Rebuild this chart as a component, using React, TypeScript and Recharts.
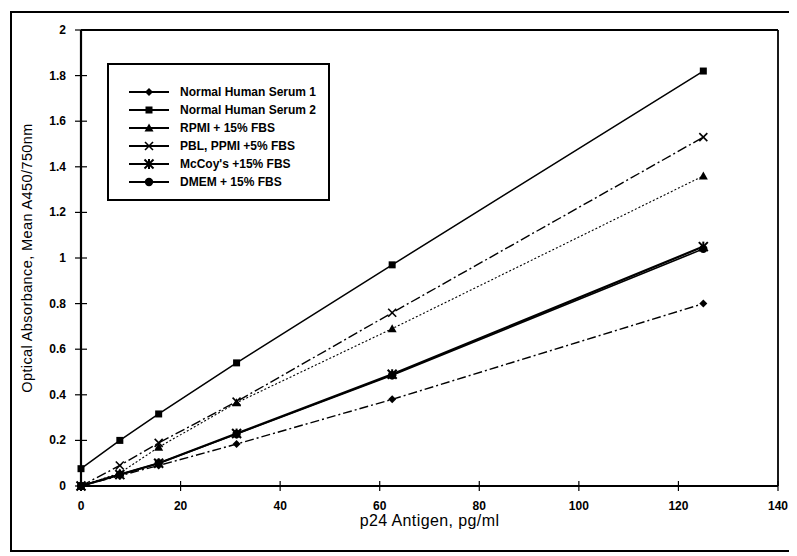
import React from 'react';
import { LineChart, Line, XAxis, YAxis, ReferenceLine, Legend, Label } from 'recharts';

const concentrations = [0, 7.8, 15.6, 31.25, 62.5, 125];
const normalHumanSerum1 = [0, 0.045, 0.09, 0.184, 0.38, 0.8];
const normalHumanSerum2 = [0.076, 0.2, 0.316, 0.54, 0.97, 1.82];
const rpmi15 = [0, 0.057, 0.17, 0.365, 0.69, 1.36];
const pblPpmi5 = [0, 0.09, 0.189, 0.37, 0.76, 1.53];
const mccoys15 = [0, 0.05, 0.1, 0.23, 0.49, 1.05];
const dmem15 = [0, 0.05, 0.1, 0.228, 0.486, 1.04];

const xTicks = [0, 20, 40, 60, 80, 100, 120, 140];
const yTicks = [0, 0.2, 0.4, 0.6, 0.8, 1, 1.2, 1.4, 1.6, 1.8, 2];
const yTickLabels = ['0', '0.2', '0.4', '0.6', '0.8', '1', '1.2', '1.4', '1.6', '1.8', '2'];

const xTitle = 'p24 Antigen, pg/ml';
const yTitle = 'Optical Absorbance, Mean A450/750nm';

type Shape = 'diamond' | 'square' | 'triangle' | 'cross' | 'asterisk' | 'circle';

const series: { key: string; name: string; values: number[]; shape: Shape; dash?: string; width: number }[] = [
  { key: 'nhs1', name: 'Normal Human Serum 1', values: normalHumanSerum1, shape: 'diamond', dash: '9 3 2 3', width: 1.4 },
  { key: 'nhs2', name: 'Normal Human Serum 2', values: normalHumanSerum2, shape: 'square', width: 1.5 },
  { key: 'rpmi', name: 'RPMI + 15% FBS', values: rpmi15, shape: 'triangle', dash: '2 2', width: 1.1 },
  { key: 'pbl', name: 'PBL, PPMI +5% FBS', values: pblPpmi5, shape: 'cross', dash: '10 3 2 3', width: 1.4 },
  { key: 'mccoy', name: "McCoy's +15% FBS", values: mccoys15, shape: 'asterisk', width: 2.2 },
  { key: 'dmem', name: 'DMEM + 15% FBS', values: dmem15, shape: 'circle', width: 1.6 },
];

const data = concentrations.map((c, i) => {
  const row: Record<string, number> = { conc: c };
  series.forEach((s) => {
    row[s.key] = s.values[i];
  });
  return row;
});

const FONT = 'Arial, "Liberation Sans", Helvetica, sans-serif';

function Marker({ shape, cx, cy }: { shape: Shape; cx: number; cy: number }) {
  switch (shape) {
    case 'diamond':
      return <polygon points={`${cx},${cy - 4} ${cx + 4},${cy} ${cx},${cy + 4} ${cx - 4},${cy}`} fill="#000" />;
    case 'square':
      return <rect x={cx - 3.5} y={cy - 3.5} width={7} height={7} fill="#000" />;
    case 'triangle':
      return <polygon points={`${cx},${cy - 4.5} ${cx + 4.5},${cy + 3.5} ${cx - 4.5},${cy + 3.5}`} fill="#000" />;
    case 'cross':
      return (
        <g stroke="#000" strokeWidth={1.6}>
          <line x1={cx - 4} y1={cy - 4} x2={cx + 4} y2={cy + 4} />
          <line x1={cx - 4} y1={cy + 4} x2={cx + 4} y2={cy - 4} />
        </g>
      );
    case 'asterisk':
      return (
        <g stroke="#000" strokeWidth={2}>
          <line x1={cx - 4.5} y1={cy - 4.5} x2={cx + 4.5} y2={cy + 4.5} />
          <line x1={cx - 4.5} y1={cy + 4.5} x2={cx + 4.5} y2={cy - 4.5} />
          <line x1={cx} y1={cy - 5} x2={cx} y2={cy + 5} />
        </g>
      );
    case 'circle':
    default:
      return <circle cx={cx} cy={cy} r={4.2} fill="#000" />;
  }
}

const XTick = (props: any) => {
  const { x, y, payload } = props;
  return (
    <g>
      <line x1={x} y1={y - 5} x2={x} y2={y + 5} stroke="#000" strokeWidth={1.2} />
      <text x={x} y={y + 24} textAnchor="middle" fontSize={12} fontWeight="bold" fontFamily={FONT} fill="#000">
        {payload.value}
      </text>
    </g>
  );
};

const YTick = (props: any) => {
  const { x, y, payload } = props;
  const idx = yTicks.indexOf(payload.value);
  const label = idx >= 0 ? yTickLabels[idx] : String(payload.value);
  return (
    <g>
      <line x1={x - 6} y1={y} x2={x + 6} y2={y} stroke="#000" strokeWidth={1.2} />
      <text x={x - 15} y={y + 4} textAnchor="end" fontSize={12} fontWeight="bold" fontFamily={FONT} fill="#000">
        {label}
      </text>
    </g>
  );
};

const LegendBox = () => (
  <div
    style={{
      boxSizing: 'border-box',
      width: 223,
      height: 138,
      border: '2px solid #000',
      paddingTop: 18,
      background: '#fff',
      fontFamily: FONT,
    }}
  >
    {series.map((s) => (
      <div key={s.key} style={{ display: 'flex', alignItems: 'center', height: 18 }}>
        <svg width={40} height={14} style={{ marginLeft: 20, display: 'block' }}>
          <line x1={0} y1={7} x2={40} y2={7} stroke="#000" strokeWidth={2} />
          <Marker shape={s.shape} cx={20} cy={7} />
        </svg>
        <span style={{ marginLeft: 11, fontSize: 12, fontWeight: 'bold', color: '#000', whiteSpace: 'nowrap' }}>{s.name}</span>
      </div>
    ))}
  </div>
);

export default function App() {
  return (
    <div style={{ position: 'relative', width: 789, height: 545, background: '#fff' }}>
      <div
        style={{
          position: 'absolute',
          left: 2,
          top: 3,
          width: 786,
          height: 541,
          border: '2px solid #000',
          boxSizing: 'border-box',
        }}
      />
      <div style={{ position: 'absolute', left: 0, top: 0 }}>
        <LineChart
          width={789}
          height={545}
          data={data}
          margin={{ top: 22, right: 19, bottom: 27, left: 13 }}
          style={{ fontFamily: FONT }}
        >
          <XAxis
            dataKey="conc"
            type="number"
            domain={[0, 140]}
            ticks={xTicks}
            height={40}
            tickSize={0}
            tickMargin={0}
            tick={<XTick />}
            tickLine={false}
            axisLine={{ stroke: '#000', strokeWidth: 2.2 }}
            interval={0}
          >
            <Label
              content={(p: any) => {
                const vb = p.viewBox || {};
                return (
                  <text
                    x={vb.x + vb.width / 2}
                    y={vb.y + 40}
                    textAnchor="middle"
                    fontSize={16}
                    letterSpacing={0.4}
                    fontFamily={FONT}
                    fill="#000"
                  >
                    {xTitle}
                  </text>
                );
              }}
            />
          </XAxis>
          <YAxis
            type="number"
            domain={[0, 2]}
            ticks={yTicks}
            width={60}
            tickSize={0}
            tickMargin={0}
            tick={<YTick />}
            tickLine={false}
            axisLine={{ stroke: '#000', strokeWidth: 2.2 }}
            interval={0}
          >
            <Label
              content={(p: any) => {
                const vb = p.viewBox || {};
                const cx = vb.x + vb.width - 54;
                const cy = 250;
                return (
                  <text
                    x={cx}
                    y={cy}
                    transform={`rotate(-90 ${cx} ${cy})`}
                    textAnchor="middle"
                    dominantBaseline="central"
                    fontSize={14.5}
                    letterSpacing={0.4}
                    fontFamily={FONT}
                    fill="#000"
                  >
                    {yTitle}
                  </text>
                );
              }}
            />
          </YAxis>
          <ReferenceLine y={2} stroke="#000" strokeWidth={1.8} />
          <ReferenceLine x={140} stroke="#000" strokeWidth={1.8} />
          {series.map((s) => (
            <Line
              key={s.key}
              dataKey={s.key}
              name={s.name}
              type="linear"
              stroke="#000"
              strokeWidth={s.width}
              strokeDasharray={s.dash}
              isAnimationActive={false}
              dot={(p: any) => <Marker key={`${s.key}-${p.index}`} shape={s.shape} cx={p.cx} cy={p.cy} />}
              activeDot={false}
            />
          ))}
          <Legend
            layout="vertical"
            align="center"
            verticalAlign="middle"
            content={() => <LegendBox />}
            wrapperStyle={{ position: 'absolute', left: 99, top: 55, width: 223, height: 138 }}
          />
        </LineChart>
      </div>
    </div>
  );
}
